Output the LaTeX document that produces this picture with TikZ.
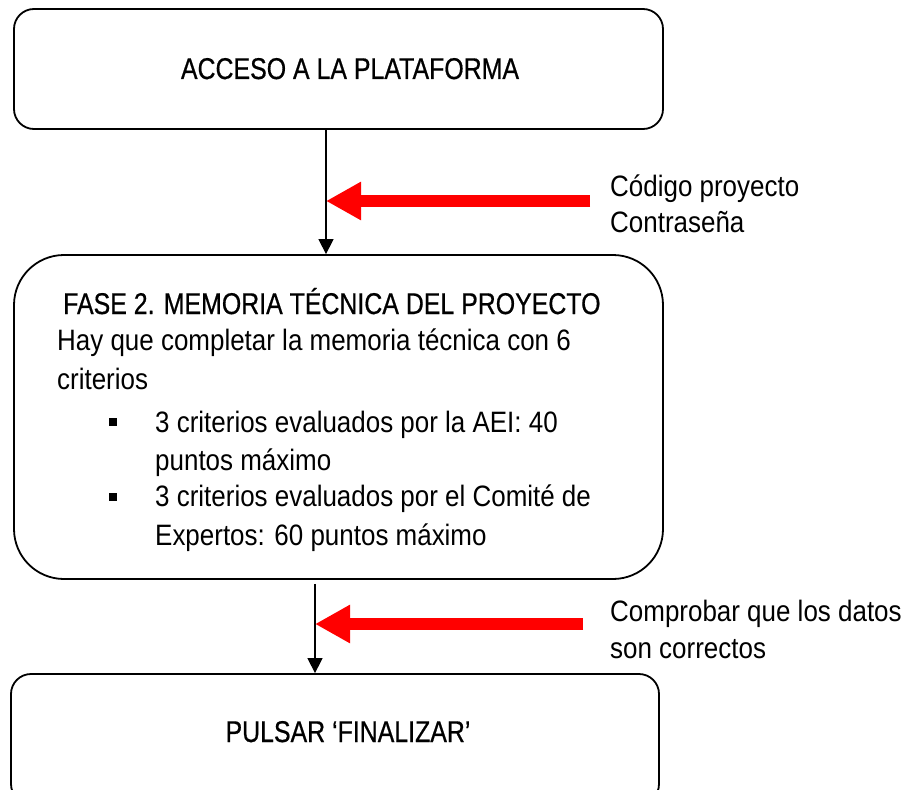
\documentclass[tikz,border=0pt]{standalone}
\usepackage{fontspec}
\setmainfont{Liberation Sans}
\newfontfamily\condfont{Liberation Sans}[FakeStretch=0.83,FakeBold=0.6]
\newfontfamily\bodyfont{Liberation Sans}[FakeStretch=0.88]
\usetikzlibrary{arrows.meta}
\begin{document}
\begin{tikzpicture}[x=1pt,y=-1pt,
  box/.style={draw, line width=1.8pt, rounded corners=#1, inner sep=0pt},
  flow/.style={line width=1.4pt, -{Triangle[width=15pt,length=15pt]}},
  hint/.style={draw=red, line width=12pt, -{Triangle[width=36pt,length=35pt]}},
  head/.style={anchor=base, inner sep=0pt, font=\condfont\fontsize{30}{36}\selectfont},
  txt/.style={anchor=base west, inner sep=0pt, font=\bodyfont\fontsize{29.5}{36}\selectfont},
  sq/.style={fill=black, inner sep=0pt, minimum size=8pt}]
\useasboundingbox (0,0) rectangle (909,789);
\clip (0,0) rectangle (909,789);
% boxes
\node[box=20pt, minimum width=649pt, minimum height=120pt] (b1) at (338.5,69) {};
\node[box=50pt, minimum width=649pt, minimum height=324pt] (b2) at (338.5,417) {};
\node[box=20pt, minimum width=648pt, minimum height=130pt] (b3) at (335,739) {};
% box texts
\node[head] (t1) at (350,79) {ACCESO A LA PLATAFORMA};
\node[head, anchor=base west] (t2a) at (63,314) {FASE 2. MEMORIA TÉCNICA DEL PROYECTO};
\node[txt] (t2b) at (57,350) {Hay que completar la memoria técnica con 6};
\node[txt] (t2c) at (57,389) {criterios};
\node[sq] (q1) at (112.5,421.5) {};
\node[txt] (t2d) at (155,432) {3 criterios evaluados por la AEI: 40};
\node[txt] (t2e) at (155,470) {puntos máximo};
\node[sq] (q2) at (112.5,496.5) {};
\node[txt] (t2f) at (155,506) {3 criterios evaluados por el Comité de};
\node[txt] (t2g) at (155,545) {Expertos: 60 puntos máximo};
\node[head] (t3) at (348,742) {PULSAR ‘FINALIZAR’};
% side texts
\node[txt] (s1a) at (610,196) {Código proyecto};
\node[txt] (s1b) at (610,232) {Contraseña};
\node[txt] (s2a) at (610,621) {Comprobar que los datos};
\node[txt] (s2b) at (610,658) {son correctos};
% connectors
\coordinate (x1) at (326,0);
\coordinate (x2) at (315,0);
\draw[flow] (x1 |- b1.south) -- (x1 |- b2.north);
\draw[flow] ([yshift=-4pt]x2 |- b2.south) -- (x2 |- b3.north);
\coordinate (r1) at (590,201);
\coordinate (r2) at (583,624);
\draw[hint] (r1) -- (r1 -| x1);
\draw[hint] (r2) -- (r2 -| x2);
\end{tikzpicture}
\end{document}
